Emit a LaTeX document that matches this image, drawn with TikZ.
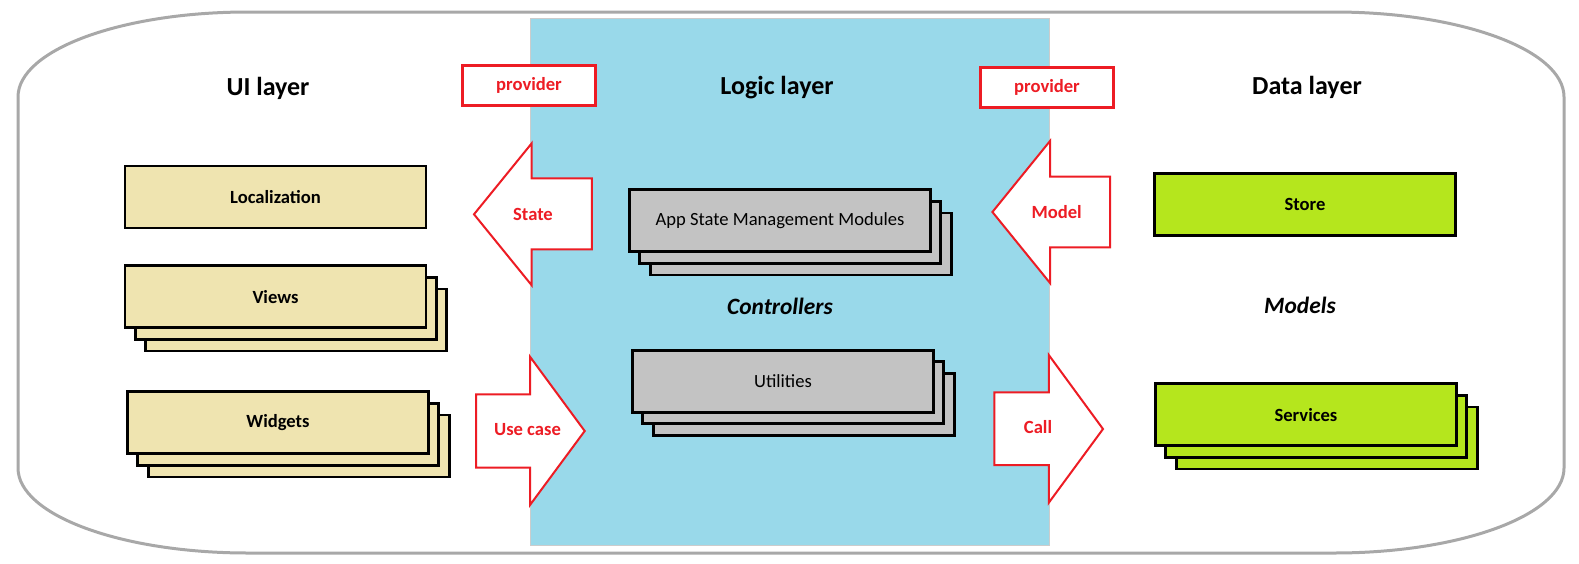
\documentclass[tikz,border=0pt]{standalone}
\usepackage{fontspec}
\setmainfont{Carlito}
\usetikzlibrary{shadows}
\definecolor{uitan}{HTML}{EFE4B0}
\definecolor{logicgray}{HTML}{C3C3C3}
\definecolor{datalime}{HTML}{B5E61D}
\definecolor{logicblue}{HTML}{99D9EA}
\definecolor{linkred}{HTML}{ED1C24}
\definecolor{framegray}{HTML}{A8A8A8}
\tikzset{
x=0.5pt, y=-0.5pt, % one unit is one pixel of the sketch, y grows downwards
layerbox/.style={draw, line width=1.4pt, minimum width=150.5pt, minimum height=31pt,
  font=\fontsize{9.3}{11}\selectfont}, % a single module box
stackbox/.style={layerbox, double copy shadow={shadow xshift=5.15pt, shadow yshift=-5.8pt}}, % a pile of boxes
heading/.style={font=\fontsize{13}{15}\selectfont\bfseries},
subheading/.style={font=\fontsize{11.7}{14}\selectfont\bfseries\itshape},
providerbox/.style={draw=linkred, fill=white, line width=1.3pt, minimum width=66.5pt,
  minimum height=20pt, text=linkred, font=\fontsize{9.3}{11}\selectfont\bfseries},
blockarrow/.style={draw=linkred, fill=white, line width=1pt},
arrowlabel/.style={text=linkred, font=\fontsize{9.3}{11}\selectfont\bfseries},
}

\begin{document}
\begin{tikzpicture}
        \useasboundingbox (0,0) rectangle (1579,563);

        % outer frame and the logic band
        \draw[framegray, line width=1.5pt] (18,97) .. controls (18,50) and (121,12) .. (248,12)
          -- (1334,12) .. controls (1461,12) and (1564,50) .. (1564,97)
          -- (1564,468) .. controls (1564,515) and (1461,553) .. (1334,553)
          -- (248,553) .. controls (121,553) and (18,515) .. (18,468) -- cycle;
        \draw[fill=logicblue, draw=gray!40, line width=0.5pt] (530,18) rectangle (1049,545);

        \node[heading] (uihead) at (268,88) {UI layer};
        \node[heading] (logichead) at (777,88) {Logic layer};
        \node[heading] (datahead) at (1307,87) {Data layer};
        \node[subheading] (controllers) at (780,306) {Controllers};
        \node[subheading] (models) at (1300,305) {Models};

        \node[providerbox] (provleft) at (529,85.3) {provider};
        \node[providerbox] (provright) at (1047,87.2) {provider};

        % block arrows between the layers
        \draw[blockarrow] (474,214.3) -- (531.7,143.3) -- (531.7,178.3) -- (591.8,178.3)
          -- (591.8,249.3) -- (531.7,249.3) -- (531.7,285.3) -- cycle;
        \node[arrowlabel] (state) at (533,214.3) {State};
        \draw[blockarrow] (476,394.3) -- (530,394.3) -- (530,356.7) -- (584.7,431)
          -- (530,505) -- (530,467.7) -- (476,467.7) -- cycle;
        \node[arrowlabel] (usecase) at (527.5,430) {Use case};
        \draw[blockarrow] (992.4,212) -- (1050,141) -- (1050,176.7) -- (1110,176.7)
          -- (1110,247.3) -- (1050,247.3) -- (1050,283) -- cycle;
        \node[arrowlabel] (model) at (1056.7,212) {Model};
        \draw[blockarrow] (994.3,392.3) -- (1048.8,392.3) -- (1048.8,355) -- (1103,429)
          -- (1048.8,502.7) -- (1048.8,465) -- (994.3,465) -- cycle;
        \node[arrowlabel] (call) at (1038,426.7) {Call};

        % modules
        \node[layerbox, fill=uitan, font=\fontsize{9.3}{11}\selectfont\bfseries] (loc) at (275.5,197) {Localization};
        \node[stackbox, fill=uitan, font=\fontsize{9.3}{11}\selectfont\bfseries] (views) at (275.5,296.8) {Views};
        \node[stackbox, fill=uitan, font=\fontsize{9.3}{11}\selectfont\bfseries] (widgets) at (278,422.8) {Widgets};
        \node[stackbox, fill=logicgray] (appstate) at (780,220.8) {App State Management Modules};
        \node[stackbox, fill=logicgray] (utils) at (783,381.2) {Utilities};
        \node[layerbox, fill=datalime, font=\fontsize{9.3}{11}\selectfont\bfseries] (store) at (1305,204.2) {Store};
        \node[stackbox, fill=datalime, font=\fontsize{9.3}{11}\selectfont\bfseries] (services) at (1306,414.8) {Services};
      \end{tikzpicture}
\end{document}
